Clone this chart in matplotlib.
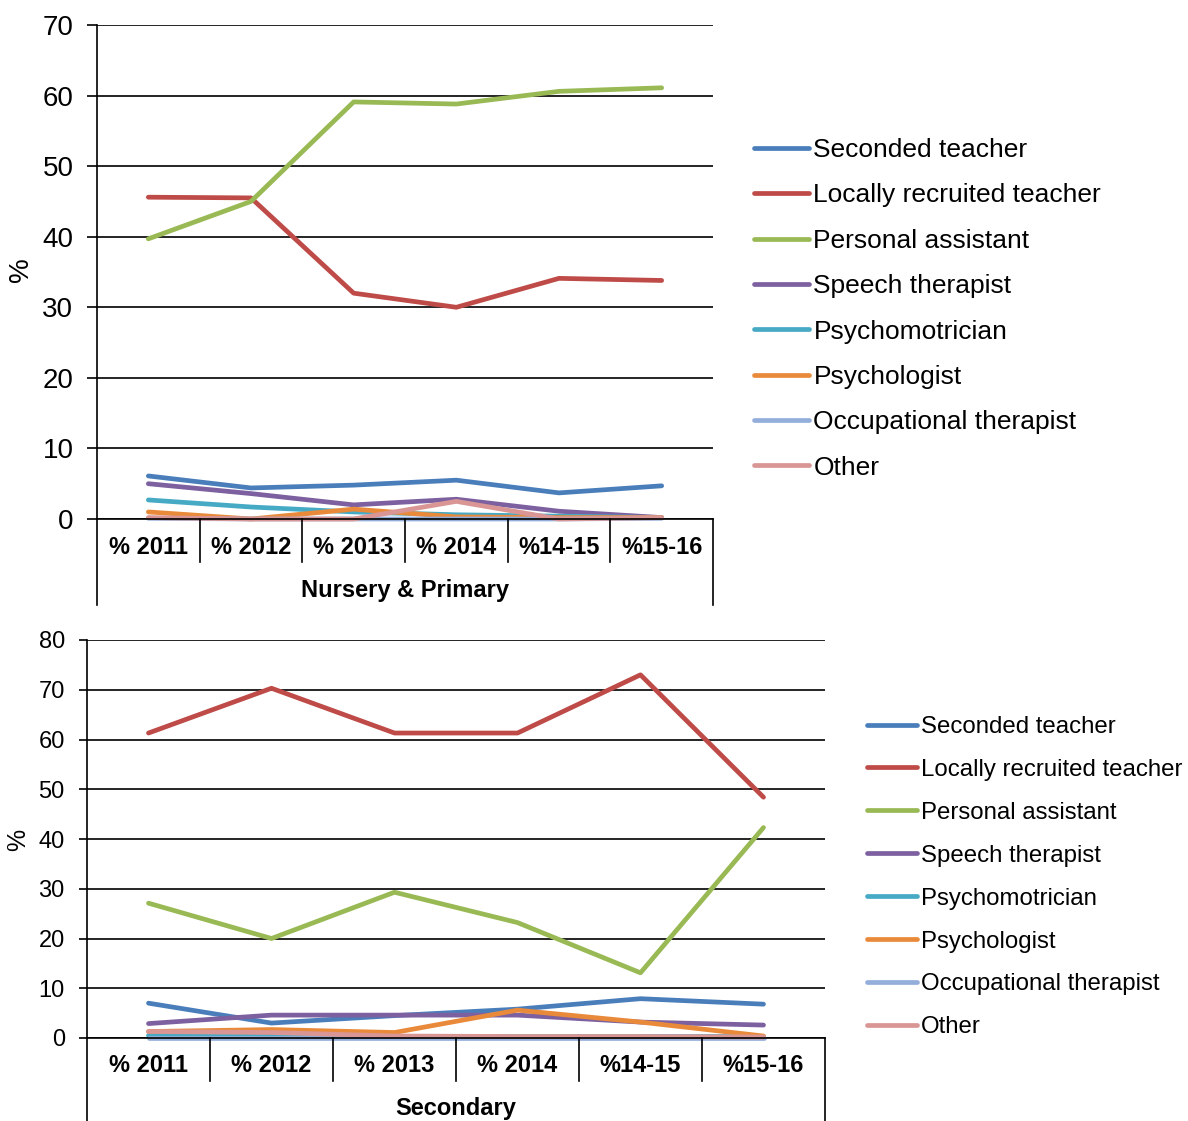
import numpy as np
import matplotlib
matplotlib.use("Agg")
import matplotlib.pyplot as plt

plt.rcParams["font.family"] = ["Liberation Sans", "DejaVu Sans"]

categories = ["% 2011", "% 2012", "% 2013", "% 2014", "%14-15", "%15-16"]
series_names = ["Seconded teacher", "Locally recruited teacher", "Personal assistant",
                "Speech therapist", "Psychomotrician", "Psychologist",
                "Occupational therapist", "Other"]
colors = ["#4A7EBB", "#BE4B48", "#98B954", "#7D60A0",
          "#46AAC5", "#E98A3B", "#94AEDB", "#D99694"]

# Nursery & Primary (%)
primary_seconded = [6.1, 4.4, 4.8, 5.5, 3.7, 4.7]
primary_local = [45.6, 45.5, 32.0, 30.0, 34.1, 33.8]
primary_assistant = [39.7, 45.0, 59.1, 58.8, 60.6, 61.1]
primary_speech = [5.0, 3.6, 2.0, 2.8, 1.1, 0.2]
primary_psychomot = [2.7, 1.7, 1.0, 0.6, 0.4, 0.2]
primary_psychologist = [1.0, 0.0, 1.4, 0.3, 0.2, 0.2]
primary_occupational = [0.1, 0.0, 0.0, 0.0, 0.0, 0.1]
primary_other = [0.2, 0.0, 0.0, 2.5, 0.0, 0.2]

# Secondary (%)
secondary_seconded = [7.0, 3.0, 4.5, 5.8, 7.9, 6.8]
secondary_local = [61.3, 70.3, 61.3, 61.3, 73.0, 48.4]
secondary_assistant = [27.1, 20.0, 29.3, 23.2, 13.1, 42.3]
secondary_speech = [2.9, 4.6, 4.6, 4.6, 3.2, 2.6]
secondary_psychomot = [0.5, 0.4, 0.3, 0.3, 0.3, 0.3]
secondary_psychologist = [1.3, 1.7, 1.1, 5.6, 3.2, 0.4]
secondary_occupational = [0.1, 0.1, 0.1, 0.1, 0.1, 0.1]
secondary_other = [1.3, 1.1, 0.4, 0.3, 0.3, 0.2]

primary = [primary_seconded, primary_local, primary_assistant, primary_speech,
           primary_psychomot, primary_psychologist, primary_occupational, primary_other]
secondary = [secondary_seconded, secondary_local, secondary_assistant, secondary_speech,
             secondary_psychomot, secondary_psychologist, secondary_occupational,
             secondary_other]

W, H = 1188, 1121
fig = plt.figure(figsize=(W / 100, H / 100), dpi=100)


def px_axes(left, top, right, bottom):
    return fig.add_axes([left / W, 1 - bottom / H, (right - left) / W, (bottom - top) / H])


def draw_panel(ax, data, ymax, step, group, tick_fs, cat_fs, leg_fs, leg_anchor,
               leg_spacing, height_px, tick_len, ylabel_xy, ylabel_fs):
    x = np.arange(len(categories))
    for vals, name, c in zip(data, series_names, colors):
        ax.plot(x, vals, color=c, lw=3.4, label=name, solid_capstyle="round",
                solid_joinstyle="round", clip_on=False)
    ax.set_xlim(-0.5, len(categories) - 0.5)
    ax.set_ylim(0, ymax)
    ax.set_yticks(np.arange(0, ymax + 1, step))
    ax.tick_params(axis="y", labelsize=tick_fs, length=tick_len, width=1.2,
                   direction="out", pad=10)
    ax.set_xticks([])
    ax.yaxis.grid(True, color="black", lw=1.2)
    ax.set_axisbelow(True)
    for s in ["top", "right"]:
        ax.spines[s].set_visible(False)
    ax.spines["left"].set_linewidth(1.2)
    ax.spines["bottom"].set_linewidth(1.2)
    fig.text(ylabel_xy[0] / W, 1 - ylabel_xy[1] / H, "%", rotation=90,
             ha="center", va="center", fontsize=ylabel_fs)

    # category separators and group frame below the axis
    sep = -43 / height_px
    frame = -86 / height_px
    tr = ax.get_xaxis_transform()
    for k in range(len(categories) + 1):
        xb = k - 0.5
        y1 = frame if k in (0, len(categories)) else sep
        ax.plot([xb, xb], [0, y1], color="black", lw=1.2, transform=tr, clip_on=False)
    for xi, lab in zip(x, categories):
        ax.text(xi, -28 / height_px, lab, transform=tr, ha="center", va="center",
                fontsize=cat_fs, fontweight="bold")
    ax.text((len(categories) - 1) / 2, -71 / height_px, group, transform=tr,
            ha="center", va="center", fontsize=cat_fs, fontweight="bold")

    ax.legend(loc="upper left", bbox_to_anchor=leg_anchor, bbox_transform=fig.transFigure,
              frameon=False, fontsize=leg_fs, handlelength=2.1, handletextpad=0.15,
              labelspacing=leg_spacing, borderaxespad=0, borderpad=0)


ax1 = px_axes(97, 25, 713, 519)
draw_panel(ax1, primary, 70, 10, "Nursery & Primary", 20, 17, 19,
           (754 / W, 1 - 138 / H), 0.81, 494, 7, (21, 270), 20)

ax2 = px_axes(87, 640, 825, 1038)
draw_panel(ax2, secondary, 80, 10, "Secondary", 17, 17, 17.3,
           (867 / W, 1 - 716 / H), 0.87, 398, 6, (18, 840), 18)

fig.savefig("out.png", dpi=100)
